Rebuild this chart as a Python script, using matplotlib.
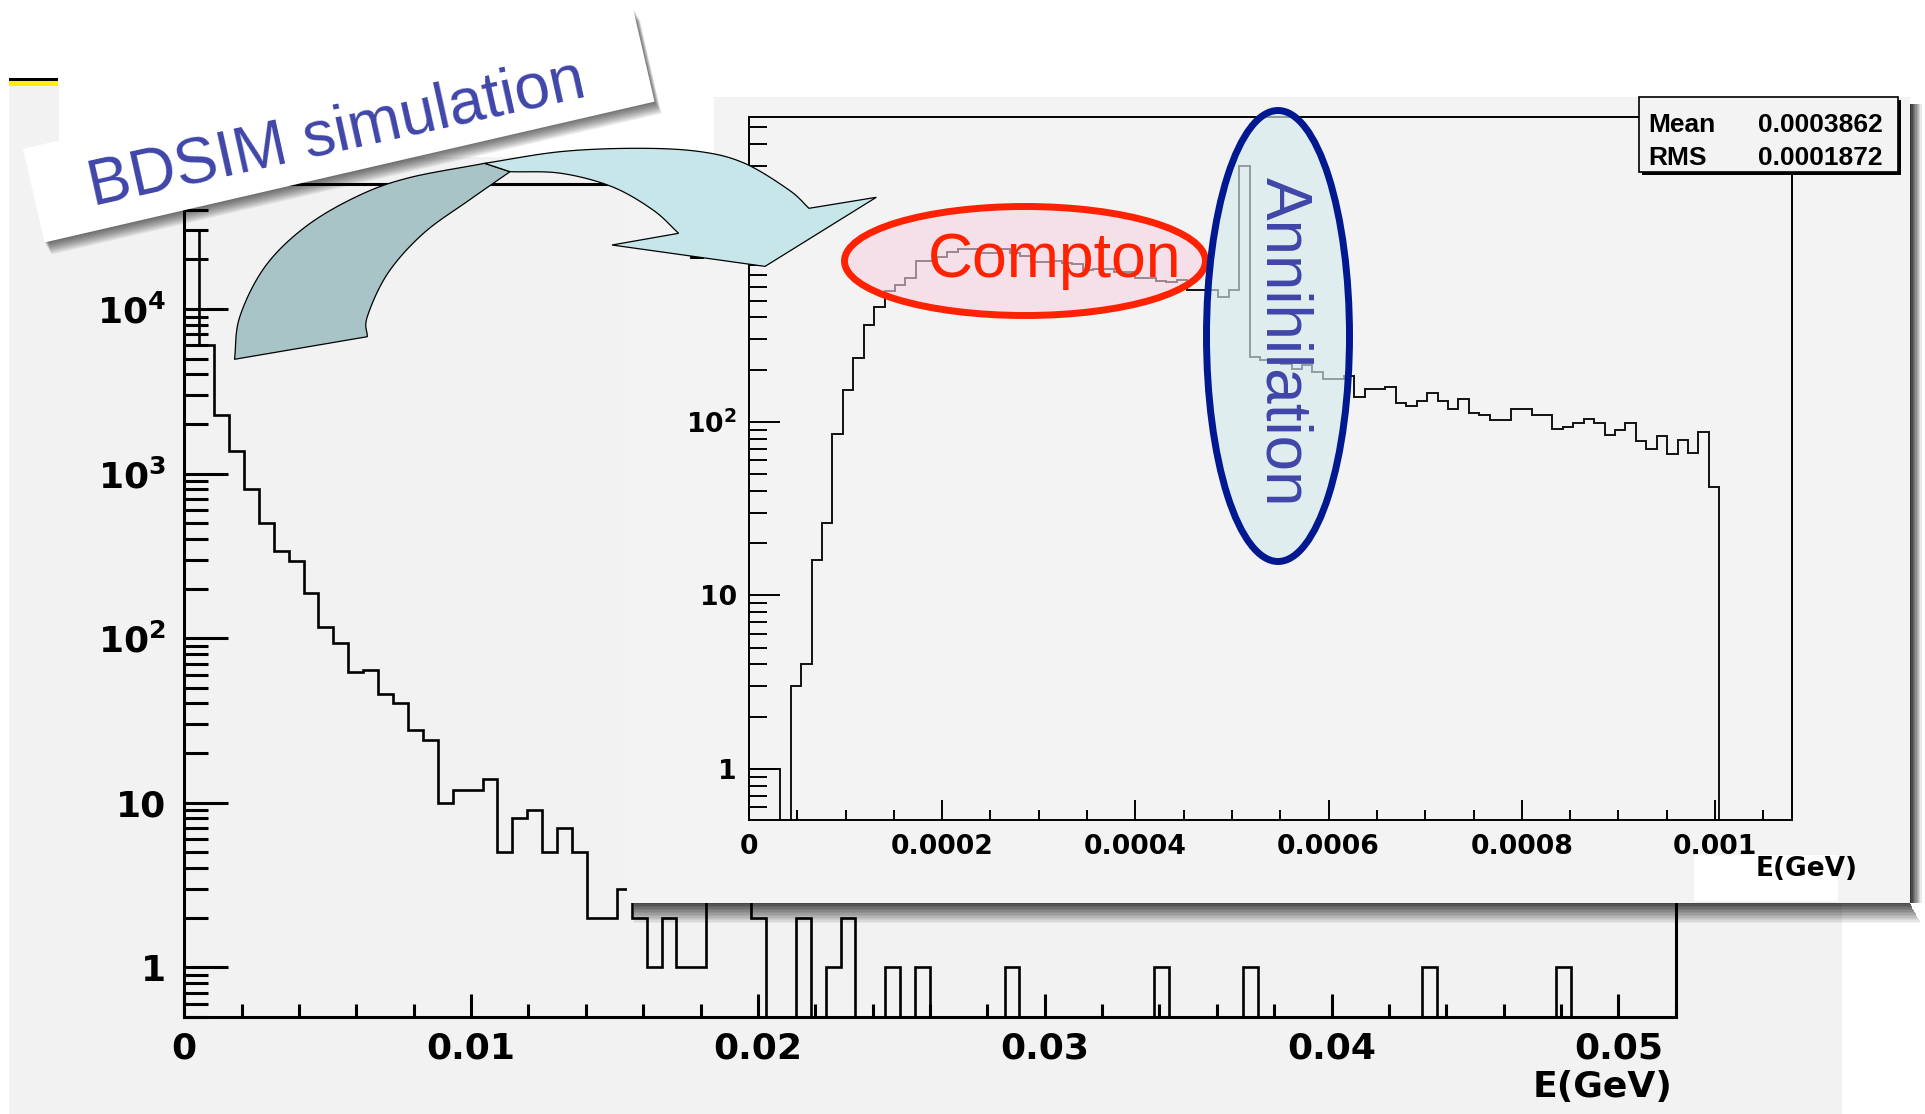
import numpy as np
import matplotlib
matplotlib.use('Agg')
import matplotlib.pyplot as plt
from matplotlib.patches import Rectangle, Ellipse, Polygon
from matplotlib.ticker import FixedLocator, FixedFormatter, NullFormatter

# ---- data ----
# back plot: 100 bins, 0 - 0.052 GeV
back_edges = np.linspace(0, 0.052, 101)
back_counts = np.array([
    30200, 6050, 2270, 1370, 810, 500, 340, 295, 188, 117,
    93, 62, 64, 46, 40, 27.5, 24, 10, 12, 12,
    14, 5, 8, 9, 5, 7, 5, 2, 2, 3,
    2, 1, 2, 1, 1, 3, 4, 3, 2, 0,
    0, 2, 0, 1, 2, 0, 0, 1, 0, 1,
    0, 0, 0, 0, 0, 1, 0, 0, 0, 0,
    0, 0, 0, 0, 0, 1, 0, 0, 0, 0,
    0, 1, 0, 0, 0, 0, 0, 0, 0, 0,
    0, 0, 0, 1, 0, 0, 0, 0, 0, 0,
    0, 0, 1, 0, 0, 0, 0, 0, 0, 0])
back_xticks = [0, 0.01, 0.02, 0.03, 0.04, 0.05]
back_xlabels = ['0', '0.01', '0.02', '0.03', '0.04', '0.05']
back_yticks = [1, 10, 100, 1000, 10000]
back_ylabels = ['1', '10', r'$\mathbf{10^{2}}$', r'$\mathbf{10^{3}}$', r'$\mathbf{10^{4}}$']

# inset plot: 100 bins, 0 - 0.00108 GeV
front_edges = np.linspace(0, 0.00108, 101)
front_counts = np.array([
    1, 1, 1, 0, 3, 4, 16, 26, 85, 152,
    234, 360, 460, 571, 617, 673, 847, 847, 897, 960,
    993, 993, 942, 942, 990, 942, 906, 840, 840, 850,
    822, 815, 752, 765, 757, 735, 735, 673, 673, 645,
    640, 660, 576, 576, 576, 528, 576, 2990, 236, 228,
    225, 215, 201, 212, 195, 176, 176, 183, 139, 154,
    154, 158, 128, 123, 132, 146, 132, 118, 135, 112,
    110, 102, 102, 118, 118, 110, 110, 91, 93, 98,
    104, 98, 84, 90, 98, 78, 70, 83, 65, 79,
    66, 88, 42, 0, 0, 0, 0, 0, 0, 0])
front_xticks = [0, 0.0002, 0.0004, 0.0006, 0.0008, 0.001]
front_xlabels = ['0', '0.0002', '0.0004', '0.0006', '0.0008', '0.001']
front_yticks = [1, 10, 100, 1000]
front_ylabels = ['1', '10', r'$\mathbf{10^{2}}$', r'$\mathbf{10^{3}}$']
stat_names = ['Mean', 'RMS']
stat_values = ['0.0003862', '0.0001872']

W, H = 1925, 1114
plt.rcParams['font.family'] = ['DejaVu Sans']
plt.rcParams['font.weight'] = 'bold'
plt.rcParams['mathtext.fontset'] = 'dejavusans'
fig = plt.figure(figsize=(W / 100, H / 100), dpi=100)


def frac(x0, y0, x1, y1):
    # pixel box (y from top) -> figure fraction rect
    return [x0 / W, 1 - y1 / H, (x1 - x0) / W, (y1 - y0) / H]


def layer(z):
    a = fig.add_axes([0, 0, 1, 1], zorder=z)
    a.set_xlim(0, W)
    a.set_ylim(H, 0)
    a.axis('off')
    return a


def minor_log(lo, hi):
    return [m * 10.0 ** e for e in range(-1, 6) for m in range(2, 10) if lo <= m * 10.0 ** e <= hi]


def root_axes(ax, xlim, ylim, xticks, xlabels, xminor, yticks, ylabels, lw, fs, ylen, xlen, ypad, xpad):
    ax.patch.set_visible(False)
    ax.set_yscale('log')
    ax.set_xlim(*xlim)
    ax.set_ylim(*ylim)
    ax.xaxis.set_major_locator(FixedLocator(xticks))
    ax.xaxis.set_major_formatter(FixedFormatter(xlabels))
    ax.xaxis.set_minor_locator(FixedLocator(xminor))
    ax.yaxis.set_major_locator(FixedLocator(yticks))
    ax.yaxis.set_major_formatter(FixedFormatter(ylabels))
    ax.yaxis.set_minor_locator(FixedLocator(minor_log(*ylim)))
    ax.yaxis.set_minor_formatter(NullFormatter())
    for s in ax.spines.values():
        s.set_linewidth(lw)
    ax.tick_params(which='both', direction='in', width=lw, labelsize=fs)
    ax.tick_params(axis='y', which='major', length=ylen[0], pad=ypad)
    ax.tick_params(axis='y', which='minor', length=ylen[1])
    ax.tick_params(axis='x', which='major', length=xlen[0], pad=xpad)
    ax.tick_params(axis='x', which='minor', length=xlen[1])


# ---- background canvas ----
bg = layer(0)
bg.add_patch(Rectangle((9, 157), 1833, 957, fc='#f2f2f2', ec='none'))
bg.add_patch(Rectangle((9, 86), 50, 72, fc='#f2f2f2', ec='none'))
bg.add_patch(Rectangle((9, 78), 49, 3.4, fc='black', ec='none'))
bg.add_patch(Rectangle((9, 81.4), 49, 4.6, fc='#fff000', ec='none'))

# ---- back histogram ----
ax1 = fig.add_axes(frac(184.2, 184, 1675.8, 1016.6), zorder=1)
root_axes(ax1, (0, 0.052), (0.5, 5.75e4), back_xticks, back_xlabels,
          np.arange(0, 0.0521, 0.002), back_yticks, back_ylabels,
          2.2, 26, (32, 17), (16.5, 9.4), 13, 11)
ax1.stairs(np.maximum(back_counts, 0.1), back_edges, baseline=0.1, color='black', lw=1.9)

# ---- inset panel ----
mid = layer(2)
mid.add_patch(Rectangle((627, 157), 1283, 746, fc='#f3f3f3', ec='none'))
mid.add_patch(Rectangle((714, 97), 1196, 61, fc='#f3f3f3', ec='none'))
for i in range(14):
    a = 0.7 * (1 - i / 14)
    mid.add_patch(Rectangle((634, 903 + i * 1.45), 1276 + i * 0.8, 1.45, fc='black', alpha=a, ec='none', lw=0))
for i in range(9):
    a = 0.8 * (1 - i / 9)
    mid.add_patch(Rectangle((1910 + i * 1.3, 104), 1.3, 799, fc='black', alpha=a, ec='none', lw=0))
mid.add_patch(Rectangle((1694, 855), 144, 46, fc='white', ec='none'))

ax2 = fig.add_axes(frac(748.9, 116.6, 1792.4, 820.3), zorder=3)
root_axes(ax2, (0, 0.00108), (0.505, 5755), front_xticks, front_xlabels,
          np.arange(0, 0.00108, 0.00005), front_yticks, front_ylabels,
          1.4, 19.3, (22, 13), (14.4, 7.2), 8.5, 10)
ax2.stairs(np.maximum(front_counts, 0.1), front_edges, baseline=0.1, color='#111111', lw=1.4)

# ---- annotations ----
top = layer(4)
top.text(1672, 1070, 'E(GeV)', ha='right', va='top', fontsize=26, fontweight='bold')
top.text(1857.5, 855.7, 'E(GeV)', ha='right', va='top', fontsize=19, fontweight='bold')

# stat box
top.add_patch(Rectangle((1642, 100), 259, 75, fc='black', ec='none'))
top.add_patch(Rectangle((1639, 97), 259, 75, fc='#f3f3f3', ec='black', lw=1.2))
for k, (nm, vl) in enumerate(zip(stat_names, stat_values)):
    yb = 131.7 + k * 33.3
    top.text(1648.7, yb, nm, ha='left', va='baseline', fontsize=19, fontweight='bold',
             family='Liberation Sans')
    top.text(1882.7, yb, vl, ha='right', va='baseline', fontsize=19, fontweight='bold',
             family='Liberation Sans')

# Compton ellipse
top.add_patch(Ellipse((1025, 261), 361, 109, fc='#f7d3e3', alpha=0.6, ec='none'))
top.add_patch(Ellipse((1025, 261), 361, 109, fc='none', ec='#ff2200', lw=5))
top.text(1055, 276.7, 'Compton', ha='center', va='baseline', fontsize=45, color='#ff2200',
         fontweight='normal', family='Liberation Sans')

# Annihilation ellipse
top.add_patch(Ellipse((1278, 336), 143, 451, fc='#d6eaed', alpha=0.65, ec='none'))
top.add_patch(Ellipse((1278, 336), 143, 451, fc='none', ec='#001890', lw=5))
top.text(1283, 342, 'Annihilation', ha='center', va='center', rotation=-90, fontsize=46,
         color='#4046a8', fontweight='normal', family='Liberation Sans')


# curved arrow
def smooth(pts, n=14):
    p = np.asarray(pts, float)
    p = np.vstack([2 * p[0] - p[1], p, 2 * p[-1] - p[-2]])
    out = []
    for i in range(1, len(p) - 2):
        p0, p1, p2, p3 = p[i - 1], p[i], p[i + 1], p[i + 2]
        for t in np.linspace(0, 1, n, endpoint=False):
            out.append(0.5 * (2 * p1 + (-p0 + p2) * t + (2 * p0 - 5 * p1 + 4 * p2 - p3) * t ** 2
                              + (-p0 + 3 * p1 - 3 * p2 + p3) * t ** 3))
    out.append(p[-2])
    return np.array(out)


outer_dark = smooth([(234.5, 359.3), (239.8, 316.7), (265.2, 266.4), (305.7, 226.6), (357, 196.4),
                     (408, 178), (484.7, 163.3)])
inner_dark = smooth([(510, 171.7), (469.4, 200), (423.5, 233.3), (387.8, 273.3), (367.3, 316.7),
                     (367.3, 336.7)])
outer_light = smooth([(484.7, 163.3), (561, 151.6), (637.8, 148.3), (700, 151.6), (744.6, 163.3),
                      (789, 190), (809, 208.3)])
head = np.array([(876.3, 197.3), (765, 266.4), (612, 245)])
inner_light = smooth([(678.6, 233.3), (653, 210), (612, 186.7), (561, 173.3), (510, 171.7)])

top.add_patch(Polygon(np.vstack([outer_dark, inner_dark]), closed=True, fc='#a8c4c7', ec='black', lw=0.9))
top.add_patch(Polygon(np.vstack([outer_light, head, inner_light]), closed=True, fc='#c6e6ea',
                      ec='black', lw=0.9))

# rotated BDSIM label box with soft shadow
ang = np.deg2rad(13)
cx, cy, bw, bh = 338.75, 125.25, 626, 96
u = np.array([np.cos(ang), -np.sin(ang)]) * bw / 2
v = np.array([np.sin(ang), np.cos(ang)]) * bh / 2
c = np.array([cx, cy])
corners = np.array([c - u - v, c + u - v, c + u + v, c - u + v])
for k in range(1, 11):
    top.add_patch(Polygon(corners + np.array([0.7 * k, 1.2 * k]), closed=True, fc='black',
                          alpha=0.07, ec='none'))
top.add_patch(Polygon(corners, closed=True, fc='white', ec='none'))
top.text(340, 151, 'BDSIM simulation', rotation=12.5, rotation_mode='anchor', ha='center',
         va='baseline', fontsize=46, color='#4046a8', fontweight='normal', family='Liberation Sans')

fig.savefig('out.png', dpi=100)
